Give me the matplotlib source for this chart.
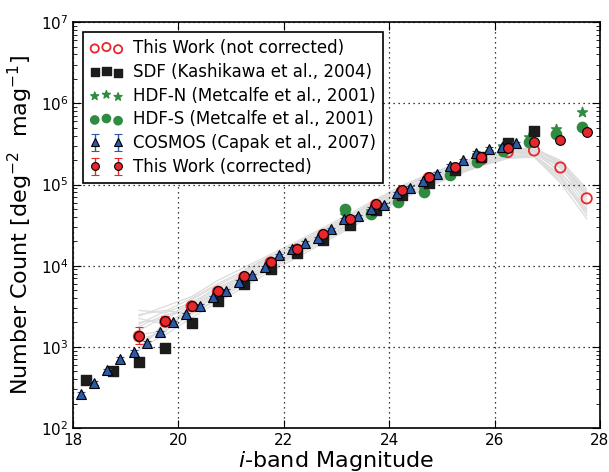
import numpy as np
import matplotlib
matplotlib.use('Agg')
import matplotlib.pyplot as plt

# magnitude bins for this work
mag_bins = [19.25, 19.75, 20.25, 20.75, 21.25, 21.75, 22.25, 22.75, 23.25,
            23.75, 24.25, 24.75, 25.25, 25.75, 26.25, 26.75, 27.25, 27.75]

# log10 number counts
this_corr = [3.14, 3.32, 3.51, 3.69, 3.87, 4.05, 4.21, 4.39, 4.57,
             4.76, 4.93, 5.09, 5.22, 5.34, 5.45, 5.53, 5.55, 5.645]
this_corr_err = [0.10, 0.06, 0.035, 0.025, 0.02, 0.02, 0.02, 0.02, 0.02,
                 0.02, 0.02, 0.02, 0.02, 0.02, 0.02, 0.02, 0.02, 0.02]
this_raw = [3.13, 3.31, 3.50, 3.68, 3.86, 4.04, 4.20, 4.38, 4.56,
            4.75, 4.92, 5.08, 5.20, 5.31, 5.40, 5.42, 5.21, 4.83]

sdf_mag = [18.25, 18.75, 19.25, 19.75, 20.25, 20.75, 21.25, 21.75, 22.25,
           22.75, 23.25, 23.75, 24.25, 24.75, 25.25, 25.75, 26.25, 26.75]
sdf_val = [2.59, 2.70, 2.81, 2.99, 3.30, 3.56, 3.77, 3.96, 4.155,
           4.32, 4.50, 4.685, 4.875, 5.02, 5.18, 5.34, 5.51, 5.655]

hdfn_mag = [23.16, 23.66, 24.16, 24.66, 25.16, 25.66, 26.16, 26.66, 27.16, 27.66]
hdfn_val = [4.62, 4.68, 4.82, 4.95, 5.16, 5.37, 5.47, 5.58, 5.69, 5.89]

hdfs_mag = [23.16, 23.66, 24.16, 24.66, 25.16, 25.66, 26.16, 26.66, 27.16, 27.66]
hdfs_val = [4.70, 4.64, 4.78, 4.91, 5.12, 5.28, 5.41, 5.52, 5.62, 5.71]

cosmos_mag = [18.15, 18.40, 18.65, 18.90, 19.15, 19.40, 19.65, 19.90, 20.15,
              20.40, 20.65, 20.90, 21.15, 21.40, 21.65, 21.90, 22.15, 22.40,
              22.65, 22.90, 23.15, 23.40, 23.65, 23.90, 24.15, 24.40, 24.65,
              24.90, 25.15, 25.40, 25.65, 25.90, 26.15, 26.40]
cosmos_val = [2.42, 2.555, 2.71, 2.85, 2.94, 3.05, 3.18, 3.305, 3.40,
              3.51, 3.61, 3.69, 3.80, 3.88, 3.98, 4.13, 4.21, 4.28,
              4.34, 4.45, 4.57, 4.61, 4.70, 4.75, 4.89, 4.96, 5.04,
              5.13, 5.23, 5.30, 5.39, 5.44, 5.46, 5.51]

# simulated realisations (grey lines)
sims = [
    [3.45, 3.42, 3.55, 3.72, 3.90, 4.08, 4.25, 4.42, 4.60, 4.78, 4.95, 5.10, 5.22, 5.33, 5.41, 5.44, 5.30, 4.95],
    [3.00, 3.25, 3.45, 3.64, 3.82, 3.99, 4.16, 4.33, 4.51, 4.69, 4.86, 5.01, 5.14, 5.26, 5.35, 5.36, 5.12, 4.70],
    [3.30, 3.35, 3.50, 3.68, 3.86, 4.03, 4.20, 4.37, 4.55, 4.73, 4.90, 5.05, 5.18, 5.30, 5.39, 5.41, 5.20, 4.85],
    [3.20, 3.38, 3.52, 3.70, 3.88, 4.06, 4.22, 4.39, 4.57, 4.75, 4.92, 5.07, 5.19, 5.31, 5.40, 5.42, 5.22, 4.78],
    [3.05, 3.22, 3.46, 3.62, 3.83, 4.00, 4.17, 4.35, 4.52, 4.70, 4.87, 5.02, 5.15, 5.27, 5.36, 5.37, 5.10, 4.62],
    [3.35, 3.28, 3.48, 3.66, 3.84, 4.04, 4.18, 4.34, 4.53, 4.71, 4.88, 5.03, 5.16, 5.28, 5.37, 5.39, 5.16, 4.74],
    [2.95, 3.32, 3.58, 3.76, 3.92, 4.10, 4.27, 4.44, 4.62, 4.80, 4.97, 5.12, 5.24, 5.35, 5.42, 5.46, 5.26, 4.90],
    [3.40, 3.45, 3.40, 3.60, 3.80, 3.98, 4.15, 4.32, 4.50, 4.68, 4.85, 5.00, 5.13, 5.25, 5.34, 5.35, 5.05, 4.66],
    [3.10, 3.18, 3.53, 3.74, 3.86, 4.01, 4.21, 4.38, 4.56, 4.74, 4.91, 5.06, 5.18, 5.30, 5.39, 5.40, 5.24, 4.88],
    [3.25, 3.40, 3.44, 3.58, 3.95, 4.12, 4.23, 4.40, 4.58, 4.76, 4.93, 5.08, 5.20, 5.32, 5.40, 5.43, 5.14, 4.82],
    [3.38, 3.50, 3.62, 3.82, 3.98, 4.14, 4.30, 4.47, 4.64, 4.82, 4.99, 5.13, 5.25, 5.35, 5.43, 5.45, 5.28, 4.92],
    [2.98, 3.15, 3.36, 3.55, 3.74, 3.93, 4.10, 4.28, 4.46, 4.64, 4.82, 4.97, 5.11, 5.23, 5.32, 5.34, 5.02, 4.58],
    [3.28, 3.44, 3.60, 3.78, 3.94, 4.11, 4.28, 4.45, 4.61, 4.79, 4.96, 5.11, 5.23, 5.34, 5.42, 5.44, 5.25, 4.86],
    [3.15, 3.20, 3.40, 3.58, 3.78, 3.96, 4.13, 4.30, 4.48, 4.66, 4.84, 4.99, 5.12, 5.24, 5.33, 5.35, 5.08, 4.68],
]

red = '#e8262b'
blue = '#2c5aa8'
green = '#2e8b3f'

fig = plt.figure(figsize=(6.09, 4.72), dpi=100)
ax = fig.add_axes([0.12, 0.093, 0.865, 0.86])

for s in sims:
    ax.plot(mag_bins, 10 ** np.array(s), color='#dcdcdc', lw=0.9, zorder=1)

ax.scatter(mag_bins, 10 ** np.array(this_raw), s=55, facecolors='none',
           edgecolors=red, linewidths=1.3, zorder=2, label='This Work (not corrected)')
ax.scatter(sdf_mag, 10 ** np.array(sdf_val), s=55, marker='s', color='#1c1c1c',
           zorder=4, label='SDF (Kashikawa et al., 2004)')
ax.scatter(hdfn_mag, 10 ** np.array(hdfn_val), s=55, marker='*', color=green,
           zorder=3, label='HDF-N (Metcalfe et al., 2001)')
ax.scatter(hdfs_mag, 10 ** np.array(hdfs_val), s=55, marker='o', color=green,
           zorder=3, label='HDF-S (Metcalfe et al., 2001)')

cv = 10 ** np.array(cosmos_val)
ax.errorbar(cosmos_mag, cv, yerr=[cv * (1 - 10 ** -0.02), cv * (10 ** 0.02 - 1)],
            fmt='^', color=blue, mfc=blue, mec='black', mew=0.8, ms=7,
            ecolor=blue, capsize=3, elinewidth=1, zorder=5,
            label='COSMOS (Capak et al., 2007)')

rv = 10 ** np.array(this_corr)
re = np.array(this_corr_err)
ax.errorbar(mag_bins, rv, yerr=[rv * (1 - 10 ** -re), rv * (10 ** re - 1)],
            fmt='o', color=red, mfc=red, mec='black', mew=0.8, ms=7,
            ecolor=red, capsize=3, elinewidth=1, zorder=6,
            label='This Work (corrected)')

ax.set_yscale('log')
ax.set_xlim(18, 28)
ax.set_ylim(1e2, 1e7)
ax.set_xticks([18, 20, 22, 24, 26, 28])
ax.tick_params(which='both', direction='in', top=True, right=True, labelsize=11)
ax.tick_params(which='major', length=6)
ax.tick_params(which='minor', length=3)
ax.grid(True, which='major', color='black', linestyle=(0, (1, 3)), linewidth=0.9)
for sp in ax.spines.values():
    sp.set_linewidth(1.2)

ax.set_xlabel('$i$-band Magnitude', fontsize=16, labelpad=1)
ax.set_ylabel('Number Count [deg$^{-2}$  mag$^{-1}$]', fontsize=16)

leg = ax.legend(loc='upper left', fontsize=12, scatterpoints=3, numpoints=2,
                markerscale=0.8, fancybox=False, framealpha=1, borderaxespad=0.6,
                handletextpad=0.6, labelspacing=0.35)
leg.get_frame().set_edgecolor('black')
leg.get_frame().set_linewidth(1.2)

fig.savefig('out.png', dpi=100)
